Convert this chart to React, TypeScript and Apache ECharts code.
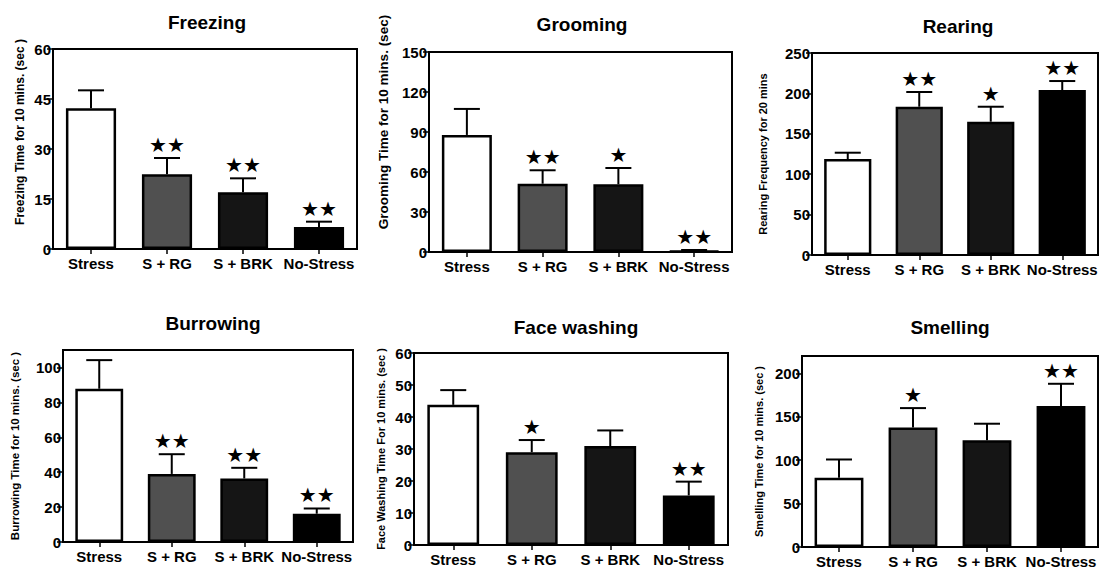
import React, { useEffect, useRef } from 'react';
import * as echarts from 'echarts';

const categories = ['Stress', 'S + RG', 'S + BRK', 'No-Stress'];
const barColors = ['#ffffff', '#505050', '#151515', '#000000'];

const titles = ['Freezing', 'Grooming', 'Rearing', 'Burrowing', 'Face washing', 'Smelling'];
const yNames = [
  'Freezing Time for 10 mins. (sec )',
  'Grooming Time for 10 mins. (sec)',
  'Rearing Frequency for 20 mins',
  'Burrowing Time for 10 mins. (sec )',
  'Face Washing Time For 10 mins. (sec )',
  'Smelling Time for 10 mins. (sec )',
];

const freezingMean = [42.2, 22.4, 17.0, 6.6];
const freezingSem = [5.4, 4.9, 4.2, 1.6];
const freezingSig = ['', '**', '**', '**'];

const groomingMean = [87.8, 51.2, 50.8, 0.8];
const groomingSem = [19.5, 10.1, 12.2, 0.7];
const groomingSig = ['', '**', '*', '**'];

const rearingMean = [118.8, 183.5, 165.0, 204.2];
const rearingSem = [7.8, 18.2, 18.5, 11.1];
const rearingSig = ['', '**', '*', '**'];

const burrowingMean = [87.8, 39.0, 36.4, 16.2];
const burrowingSem = [16.4, 11.3, 6.1, 3.0];
const burrowingSig = ['', '**', '**', '**'];

const faceMean = [43.8, 29.0, 30.9, 15.5];
const faceSem = [4.6, 3.8, 4.9, 4.3];
const faceSig = ['', '*', '', '**'];

const smellingMean = [79.7, 137.6, 123.0, 162.4];
const smellingSem = [21.1, 22.4, 19.0, 25.6];
const smellingSig = ['', '*', '', '**'];

const yMax = [60, 150, 250, 110, 60, 220];
const yInterval = [15, 30, 50, 20, 10, 50];

const means = [freezingMean, groomingMean, rearingMean, burrowingMean, faceMean, smellingMean];
const sems = [freezingSem, groomingSem, rearingSem, burrowingSem, faceSem, smellingSem];
const sigs = [freezingSig, groomingSig, rearingSig, burrowingSig, faceSig, smellingSig];

// layout: [left, top, width, height]
const gridBoxes = [
  [53, 49, 304, 200],
  [429, 52, 303, 200],
  [812, 53, 286, 202],
  [63, 350, 290, 192],
  [414, 353, 314, 192],
  [802, 356, 296, 191],
];
const titlePos = [
  [207, 22],
  [582, 24],
  [958, 26],
  [213, 323],
  [576, 327],
  [950, 327],
];
const nameGaps = [27, 39, 44, 42, 28, 38];
const namePadLeft = [34, 60, 0, 0, 0, 0];
const nameSizes = [12, 13.5, 11, 11.5, 11, 11];

const FONT = '"Liberation Sans", Arial, sans-serif';

export default function App() {
  const ref = useRef<HTMLDivElement>(null);

  useEffect(() => {
    if (!ref.current) return;
    const chart = echarts.init(ref.current, undefined, { renderer: 'svg' });

    const grid: any[] = [];
    const xAxis: any[] = [];
    const yAxis: any[] = [];
    const series: any[] = [];
    const graphic: any[] = [];

    for (let i = 0; i < 6; i++) {
      const [l, t, w, h] = gridBoxes[i];
      grid.push({
        left: l,
        top: t,
        width: w,
        height: h,
        show: true,
        borderColor: '#000',
        borderWidth: 2,
        backgroundColor: 'transparent',
        containLabel: false,
        outerBoundsMode: 'none',
      });
      xAxis.push({
        type: 'category',
        gridIndex: i,
        data: categories,
        axisLine: { show: true, lineStyle: { color: '#000', width: 2 } },
        axisTick: { show: true, alignWithLabel: true, length: 5, lineStyle: { color: '#000', width: 1.5 } },
        axisLabel: {
          interval: 0,
          color: '#000',
          fontSize: 15,
          fontWeight: 'bold',
          fontFamily: FONT,
          margin: 7,
        },
        splitLine: { show: false },
      });
      yAxis.push({
        type: 'value',
        gridIndex: i,
        min: 0,
        max: yMax[i],
        interval: yInterval[i],
        name: yNames[i],
        nameLocation: 'middle',
        nameGap: nameGaps[i],
        nameTextStyle: {
          color: '#000',
          fontSize: nameSizes[i],
          fontWeight: 'bold',
          fontFamily: FONT,
          padding: [0, 0, 0, namePadLeft[i]],
        },
        axisLine: { show: true, lineStyle: { color: '#000', width: 2 } },
        axisTick: { show: true, length: 6, lineStyle: { color: '#000', width: 1.5 } },
        axisLabel: {
          color: '#000',
          fontSize: 15,
          fontWeight: 'bold',
          fontFamily: FONT,
          margin: 2,
          showMaxLabel: yMax[i] % yInterval[i] === 0,
        },
        splitLine: { show: false },
      });

      const m = means[i];
      const s = sems[i];
      const sg = sigs[i];
      series.push({
        type: 'bar',
        xAxisIndex: i,
        yAxisIndex: i,
        barWidth: '66%',
        data: m.map((v, k) => ({
          value: v,
          itemStyle: { color: barColors[k], borderColor: '#000', borderWidth: 2.5 },
        })),
      });
      series.push({
        type: 'custom',
        xAxisIndex: i,
        yAxisIndex: i,
        z: 5,
        data: m.map((v, k) => [k, v, s[k]]),
        renderItem: (params: any, api: any) => {
          const idx = api.value(0);
          const mean = api.value(1);
          const sem = api.value(2);
          const base = api.coord([idx, mean]);
          const top = api.coord([idx, mean + sem]);
          const children: any[] = [
            {
              type: 'line',
              shape: { x1: base[0], y1: base[1], x2: top[0], y2: top[1] },
              style: { stroke: '#000', lineWidth: 2 },
            },
            {
              type: 'line',
              shape: { x1: top[0] - 13, y1: top[1], x2: top[0] + 13, y2: top[1] },
              style: { stroke: '#000', lineWidth: 2 },
            },
          ];
          const star = sg[idx];
          if (star) {
            children.push({
              type: 'text',
              x: top[0],
              y: top[1] - 3,
              style: {
                text: star.replace(/\*/g, '★'),
                fontSize: 20,
                fontFamily: '"DejaVu Sans", sans-serif',
                fill: '#000',
                align: 'center',
                verticalAlign: 'bottom',
              },
            });
          }
          return { type: 'group', children };
        },
      });

      graphic.push({
        type: 'text',
        x: titlePos[i][0],
        y: titlePos[i][1],
        style: {
          text: titles[i],
          fontSize: 19,
          fontWeight: 'bold',
          fontFamily: FONT,
          fill: '#000',
          align: 'center',
          verticalAlign: 'middle',
        },
      });
    }

    chart.setOption({
      animation: false,
      backgroundColor: '#fff',
      grid,
      xAxis,
      yAxis,
      series,
      graphic,
    });

    return () => chart.dispose();
  }, []);

  return (
    <div
      ref={ref}
      style={{ position: 'absolute', left: 0, top: 0, width: 1101, height: 569 }}
    />
  );
}
